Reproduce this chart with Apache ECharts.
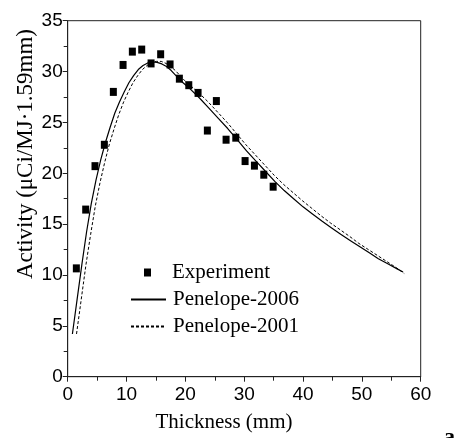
<!DOCTYPE html>
<html>
<head>
<meta charset="utf-8">
<script src="https://cdn.jsdelivr.net/npm/echarts@6/dist/echarts.min.js"></script>
<style>html,body{margin:0;padding:0;background:#fff}#c{width:456px;height:438px}</style>
</head>
<body>
<div id="c"></div>
<script>
// Experiment data
const expX = [1.47, 3.06, 4.64, 6.23, 7.76, 9.41, 10.99, 12.58, 14.17, 15.8, 17.4, 18.98, 20.58, 22.16, 23.74, 25.27, 26.92, 28.57, 30.15, 31.74, 33.33, 34.92];
const expY = [10.65, 16.43, 20.7, 22.8, 28.0, 30.65, 31.96, 32.16, 30.8, 31.7, 30.7, 29.3, 28.66, 27.9, 24.2, 27.1, 23.3, 23.5, 21.2, 20.75, 19.86, 18.68];
// Penelope-2006 (solid)
const p06X = [0.8, 1.6, 2.4, 3.2, 4.0, 4.8, 5.6, 6.4, 7.2, 8.0, 8.8, 9.6, 10.4, 11.2, 12.0, 12.8, 13.6, 14.4, 15.2, 16.0, 16.8, 17.6, 18.4, 19.2, 20.0, 20.8, 22.4, 24.0, 25.6, 27.2, 28.8, 30.4, 32.0, 33.6, 35.2, 36.8, 38.4, 40.0, 41.6, 43.2, 44.8, 46.4, 48.0, 49.6, 51.2, 52.8, 54.4, 56.0, 57.0];
const p06Y = [4.2, 7.6, 11.0, 14.2, 17.0, 19.3, 21.3, 23.0, 24.5, 25.9, 27.0, 28.0, 28.9, 29.6, 30.2, 30.6, 30.85, 30.95, 30.9, 30.75, 30.5, 30.1, 29.6, 29.1, 28.7, 28.3, 27.4, 26.4, 25.4, 24.4, 23.3, 22.2, 21.2, 20.2, 19.2, 18.3, 17.5, 16.7, 16.0, 15.3, 14.65, 14.0, 13.4, 12.8, 12.2, 11.6, 11.1, 10.6, 10.3];
// Penelope-2001 (dashed)
const p01X = [1.5, 2.3, 3.1, 3.9, 4.7, 5.5, 6.3, 7.1, 7.9, 8.7, 9.5, 10.3, 11.1, 11.9, 12.7, 13.5, 14.3, 15.1, 15.9, 16.7, 17.5, 18.3, 19.1, 19.9, 20.7, 22.3, 23.9, 25.5, 27.1, 28.7, 30.3, 31.9, 33.5, 35.1, 36.7, 38.3, 39.9, 41.5, 43.1, 44.7, 46.3, 47.9, 49.5, 51.1, 52.7, 54.3, 55.9, 57.2];
const p01Y = [4.2, 7.6, 11.0, 14.0, 16.8, 19.1, 21.1, 22.9, 24.4, 25.8, 27.0, 28.0, 28.9, 29.6, 30.2, 30.6, 30.9, 31.0, 31.0, 30.8, 30.5, 30.1, 29.6, 29.1, 28.7, 27.9, 27.0, 26.0, 25.0, 23.9, 22.8, 21.8, 20.8, 19.8, 18.9, 18.1, 17.3, 16.55, 15.8, 15.1, 14.45, 13.8, 13.1, 12.5, 11.9, 11.3, 10.7, 10.15];
// Axis ticks
const xTicks = [0, 10, 20, 30, 40, 50, 60];
const yTicks = [0, 5, 10, 15, 20, 25, 30, 35];
const seriesNames = ['Experiment', 'Penelope-2006', 'Penelope-2001'];
const xTitle = 'Thickness (mm)';
const yTitle = 'Activity (\u03BCCi/MJ\u00B71.59mm)';
const panelLabel = 'a';

const zip = (a, b) => a.map((v, i) => [v, b[i]]);
const serif = '"Liberation Serif", "Times New Roman", serif';
const sans = '"Liberation Sans", Arial, sans-serif';

const chart = echarts.init(document.getElementById('c'), null, {renderer: 'canvas'});
chart.setOption({
  animation: false,
  backgroundColor: '#fff',
  grid: {left: 67.7, right: 35.3, top: 20.7, bottom: 61.3, show: true, borderColor: '#222', borderWidth: 1, backgroundColor: 'transparent'},
  xAxis: {
    type: 'value', min: xTicks[0], max: xTicks[xTicks.length - 1], interval: 10,
    axisLine: {lineStyle: {color: '#222', width: 1}},
    axisTick: {show: true, inside: false, length: 5, lineStyle: {color: '#222'}},
    minorTick: {show: true, splitNumber: 2, length: 4, lineStyle: {color: '#222'}},
    splitLine: {show: false},
    axisLabel: {color: '#000', fontFamily: sans, fontSize: 19, margin: 9}
  },
  yAxis: {
    type: 'value', min: yTicks[0], max: yTicks[yTicks.length - 1], interval: 5,
    axisLine: {show: true, lineStyle: {color: '#222', width: 1}},
    axisTick: {show: true, inside: false, length: 5, lineStyle: {color: '#222'}},
    minorTick: {show: true, splitNumber: 2, length: 4, lineStyle: {color: '#222'}},
    splitLine: {show: false},
    axisLabel: {color: '#000', fontFamily: sans, fontSize: 19, margin: 5}
  },
  legend: [
    {
      data: [seriesNames[0]], left: 144, top: 262, orient: 'vertical', padding: 0,
      icon: 'rect', itemWidth: 7, itemHeight: 8,
      itemStyle: {opacity: 1},
      textStyle: {color: '#000', fontFamily: serif, fontSize: 21, padding: [0, 0, 0, 16]}
    },
    {
      data: [seriesNames[1], seriesNames[2]], left: 130, top: 289, orient: 'vertical', padding: 0,
      itemWidth: 35, itemHeight: 14, itemGap: 6,
      itemStyle: {opacity: 0},
      textStyle: {color: '#000', fontFamily: serif, fontSize: 21, padding: [0, 0, 0, 2]}
    }
  ],
  graphic: [
    {type: 'text', x: 26, y: 154, rotation: Math.PI / 2,
     style: {text: yTitle, font: '23px ' + serif, fill: '#000', align: 'center', verticalAlign: 'middle'}},
    {type: 'text', x: 224, y: 422,
     style: {text: xTitle, font: '21px ' + serif, fill: '#000', align: 'center', verticalAlign: 'middle'}},
    {type: 'text', x: 444, y: 426,
     style: {text: panelLabel, font: 'bold 22px ' + serif, fill: '#000', align: 'left', verticalAlign: 'top'}}
  ],
  series: [
    {name: seriesNames[0], type: 'scatter', symbol: 'rect', symbolSize: [7, 8],
     itemStyle: {color: '#000', opacity: 1}, data: zip(expX, expY), z: 5},
    {name: seriesNames[1], type: 'line', symbol: 'none', smooth: false,
     lineStyle: {color: '#000', width: 1.2, type: 'solid'}, itemStyle: {color: '#000'}, data: zip(p06X, p06Y)},
    {name: seriesNames[2], type: 'line', symbol: 'none', smooth: false,
     lineStyle: {color: '#000', width: 1, type: [3, 2]}, itemStyle: {color: '#000'}, data: zip(p01X, p01Y)}
  ]
});
</script>
</body>
</html>
